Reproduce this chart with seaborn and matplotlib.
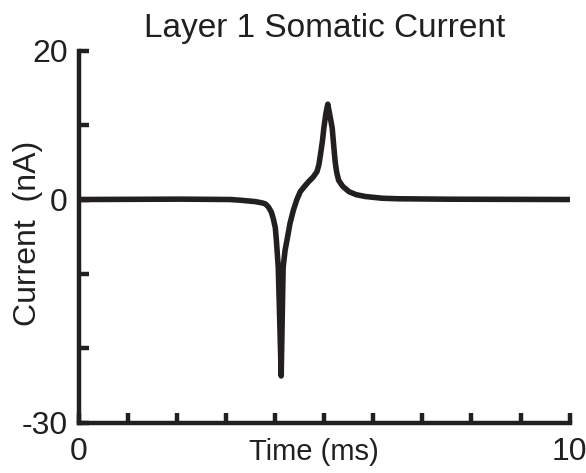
import matplotlib
matplotlib.use("Agg")
import matplotlib.pyplot as plt
import seaborn as sns
import pandas as pd

# Data
time_ms = [0.0, 2.06, 3.08, 3.3, 3.59, 3.73, 3.8, 3.86, 3.92, 3.96, 4.0, 4.02,
           4.06, 4.09, 4.12, 4.14, 4.16, 4.2, 4.24, 4.3, 4.37, 4.44, 4.51, 4.6,
           4.68, 4.77, 4.85, 4.89, 4.92, 4.96, 4.99, 5.03, 5.07, 5.11, 5.16,
           5.19, 5.22, 5.25, 5.29, 5.37, 5.50, 5.65, 5.84, 6.18, 6.5, 7.57, 10.0]
current_nA = [0.0, 0.05, 0.0, -0.1, -0.28, -0.45, -0.6, -1.0, -1.7, -2.6, -3.8,
              -5.3, -9.1, -16.2, -23.7, -16.2, -9.1, -6.8, -5.4, -3.2, -1.4,
              0.0, 1.06, 1.8, 2.4, 3.0, 3.75, 4.7, 6.0, 7.8, 9.6, 11.5, 12.8,
              11.4, 9.6, 7.3, 5.1, 3.7, 2.6, 1.8, 1.06, 0.65, 0.4, 0.17, 0.1,
              0.04, 0.0]
x_ticks = [0, 1, 2, 3, 4, 5, 6, 7, 8, 9, 10]
x_ticklabels = ["0", "", "", "", "", "", "", "", "", "", "10"]
y_ticks = [-30, -20, -10, 0, 10, 20]
y_ticklabels = ["-30", "", "", "0", "", "20"]

df = pd.DataFrame({"Time": time_ms, "Current": current_nA})

sns.set_theme(style="ticks")
plt.rcParams["font.family"] = ["Liberation Sans", "DejaVu Sans"]

ink = "#231f20"
fs = 23
fig = plt.figure(figsize=(5.86, 4.73), dpi=100)
ax = fig.add_axes([0.135, 0.106, 0.837, 0.787])

sns.lineplot(data=df, x="Time", y="Current", ax=ax, color=ink, linewidth=4.0,
             sort=False, estimator=None)
ax.lines[0].set_solid_joinstyle("round")
ax.lines[0].set_solid_capstyle("round")

ax.set_xlim(0, 10)
ax.set_ylim(-30, 20)
ax.set_xticks(x_ticks)
ax.set_xticklabels(x_ticklabels)
ax.set_yticks(y_ticks)
ax.set_yticklabels(y_ticklabels)

for s in ["top", "right"]:
    ax.spines[s].set_visible(False)
for s in ["left", "bottom"]:
    ax.spines[s].set_linewidth(3.2)
    ax.spines[s].set_color(ink)
    ax.spines[s].set_capstyle("projecting")

ax.tick_params(axis="both", direction="in", length=7, width=3.2, color=ink,
               labelsize=fs, labelcolor=ink)
ax.tick_params(axis="x", pad=10)
ax.tick_params(axis="y", pad=8)

ax.set_xlabel("Time (ms)", fontsize=21, color=ink)
ax.xaxis.set_label_coords(0.478, -0.042)
ax.set_ylabel("Current  (nA)", fontsize=fs, color=ink)
ax.yaxis.set_label_coords(-0.073, 0.51)
ax.set_title("Layer 1 Somatic Current", fontsize=24, color=ink, pad=10)

fig.savefig("out.png", dpi=100)
